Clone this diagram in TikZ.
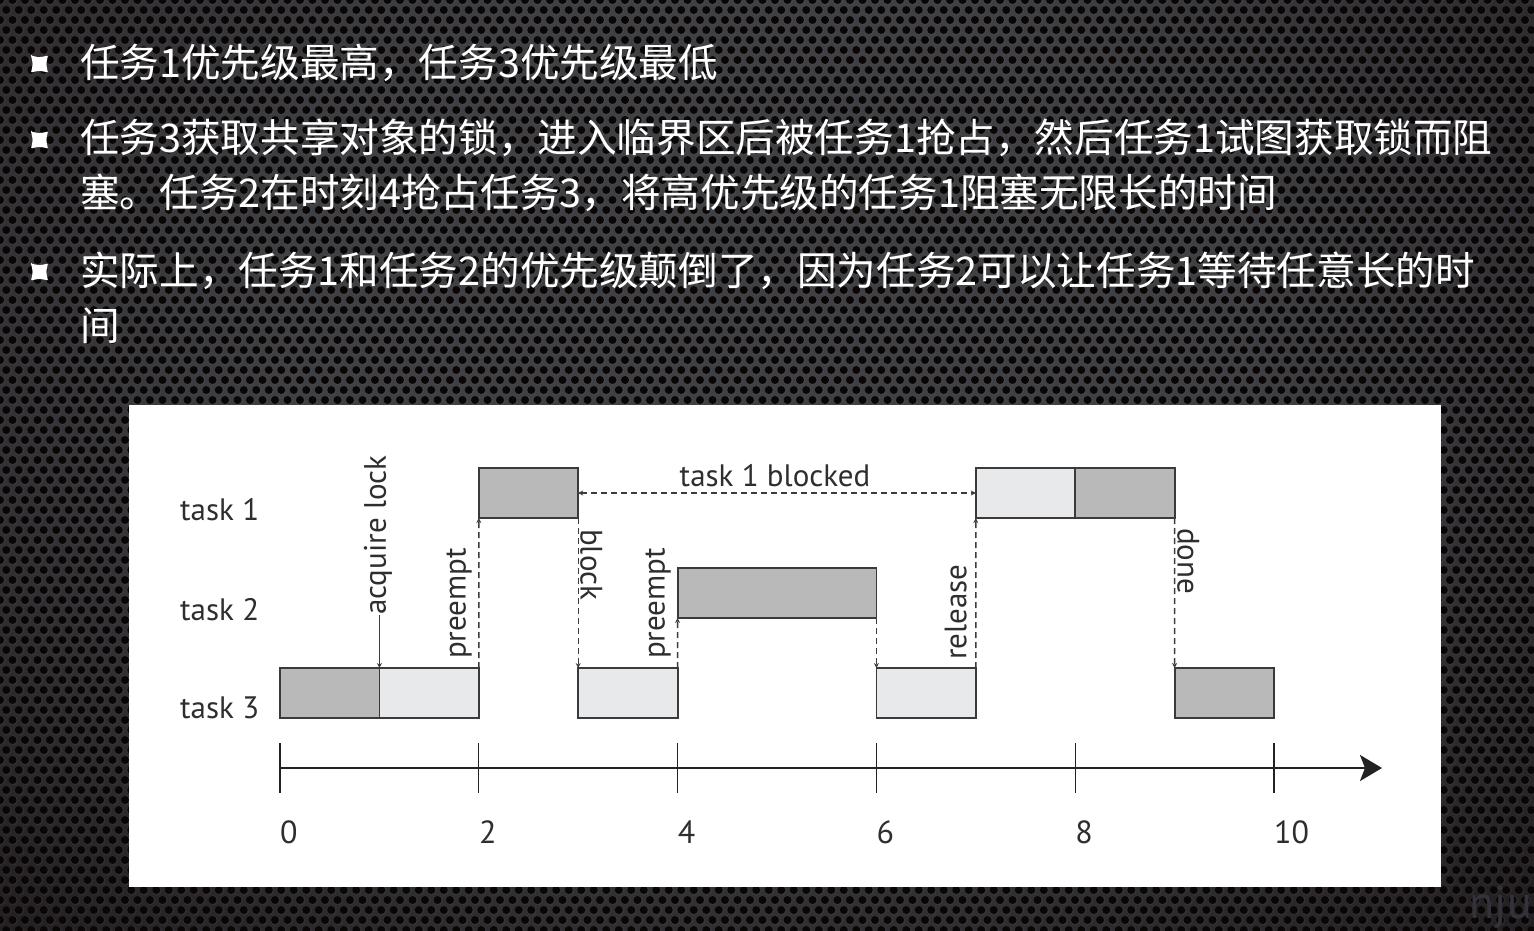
\documentclass[tikz,border=0pt]{standalone}
\usepackage{fontspec}
\setmainfont{PT Sans}
\newfontfamily\cjk{Noto Sans CJK SC}
\usetikzlibrary{arrows.meta}
\definecolor{bgmid}{HTML}{404042}
\definecolor{bgdark}{HTML}{120B0C}
\definecolor{hole}{HTML}{0A0606}
\definecolor{rim}{HTML}{5A6A8A}
\definecolor{darkfill}{HTML}{B9B9B9}
\definecolor{lightfill}{HTML}{E8E9EB}
\definecolor{boxline}{HTML}{3A3A3A}
\definecolor{labcol}{HTML}{2E2E2E}
\definecolor{arrcol}{HTML}{3C3C3C}
\definecolor{axcol}{HTML}{222222}
\definecolor{wmcol}{HTML}{36323C}
\pgfdeclareradialshading{bgglow}{\pgfpoint{0bp}{0bp}}{color(0bp)=(bgmid); color(8bp)=(bgmid); color(25bp)=(bgdark); color(50bp)=(bgdark)}
\tikzset{
  zh/.style={text=white, font=\cjk\fontsize{39.6}{48}\selectfont, inner sep=0pt, anchor=base west},
  lab/.style={text=labcol, font=\fontsize{31}{31}\selectfont, inner sep=0pt},
  num/.style={text=labcol, font=\fontsize{32}{32}\selectfont, inner sep=0pt, anchor=base west},
  box/.style={draw=boxline, line width=1.8pt, minimum height=50pt, inner sep=0pt, outer sep=0pt, anchor=north west},
  dk/.style={box, fill=darkfill},
  lt/.style={box, fill=lightfill},
  dsh/.style={draw=arrcol, line width=1.4pt, dash pattern=on 6pt off 4pt, -{Stealth[length=5pt,width=5pt]}},
  sol/.style={draw=arrcol, line width=1.4pt, -{Stealth[length=5pt,width=5pt]}},
  tickline/.style={draw=axcol, line width=1.2pt},
  bulletmark/.style={fill=white},
  holerow/.style={draw=hole, line width=8pt, line cap=round, dash pattern=on 0pt off 12.5pt},
  rimrow/.style={draw=rim, draw opacity=0.12, line width=10pt, line cap=round, dash pattern=on 0pt off 12.5pt}
}
\begin{document}
\begin{tikzpicture}[x=1pt,y=-1pt]
\useasboundingbox (0,0) rectangle (1534,930);
% background
\begin{scope}
\clip (0,0) rectangle (1534,930);
\fill[bgdark] (0,0) rectangle (1534,930);
\shade[shading=bgglow] (760,330) ellipse [x radius=1500, y radius=1100];
\foreach \j in {0,...,93} {
  \pgfmathsetmacro\off{mod(\j,2)*6.25}
  \draw[rimrow] ({\off+0.6},{\j*10+0.6}) -- (1545,{\j*10+0.6});
  \draw[holerow] (\off,{\j*10}) -- (1545,{\j*10});
}
\node[text=wmcol, font=\fontsize{46}{46}\selectfont, anchor=base east, inner sep=0pt] (wm) at (1532,918) {nju};
\end{scope}
% bullets
\foreach \by in {64,140,272} {
  \fill[bulletmark, shift={(39.5,\by)}, rounded corners=1pt] (-8.5,-8.5) .. controls (0,-6.5) .. (8.5,-8.5) .. controls (6.5,0) .. (8.5,8.5) .. controls (0,6.5) .. (-8.5,8.5) .. controls (-6.5,0) .. (-8.5,-8.5) -- cycle;
}
% text
\node[zh] (l1) at (80,77) {任务1优先级最高，任务3优先级最低};
\node[zh] (l2) at (80,152) {任务3获取共享对象的锁，进入临界区后被任务1抢占，然后任务1试图获取锁而阻};
\node[zh] (l2b) at (80,207) {塞。任务2在时刻4抢占任务3，将高优先级的任务1阻塞无限长的时间};
\node[zh] (l3) at (80,285) {实际上，任务1和任务2的优先级颠倒了，因为任务2可以让任务1等待任意长的时};
\node[zh] (l3b) at (80,340) {间};
% panel
\fill[white] (129,405) rectangle (1441,887);
% task labels
\node[lab, anchor=base west] (tk1) at (180,520) {task 1};
\node[lab, anchor=base west] (tk2) at (180,620) {task 2};
\node[lab, anchor=base west] (tk3) at (180,718) {task 3};
% boxes
\node[dk, minimum width=99.4pt] (t3a) at (280,668) {};
\node[lt, minimum width=99.4pt] (t3b) at (379.4,668) {};
\node[lt, minimum width=99.4pt] (t3c) at (578.2,668) {};
\node[lt, minimum width=99.4pt] (t3d) at (876.4,668) {};
\node[dk, minimum width=99.4pt] (t3e) at (1174.6,668) {};
\node[dk, minimum width=99.4pt] (t1a) at (478.8,468) {};
\node[lt, minimum width=99.4pt] (t1b) at (975.8,468) {};
\node[dk, minimum width=99.4pt] (t1c) at (1075.2,468) {};
\node[dk, minimum width=198.8pt] (t2a) at (677.6,568) {};
% event labels
\node[lab, rotate=90, anchor=west] (acq) at (378,615) {acquire lock};
\node[lab, rotate=90, anchor=south west] (pre1) at (472,659) {preempt};
\node[lab, rotate=-90, anchor=south west] (blk) at (580,529) {block};
\node[lab, rotate=90, anchor=south west] (pre2) at (671,659) {preempt};
\node[lab, rotate=90, anchor=south west] (rel) at (967,660) {release};
\node[lab, rotate=-90, anchor=south west] (dn) at (1177,528) {done};
\node[lab, anchor=base] (blkd) at (775,486) {task 1 blocked};
% connectors
\draw[sol] (acq.west -| t3b.north west) -- (t3b.north west);
\draw[dsh] (t3b.north east) -- (t1a.south west);
\draw[dsh] (t1a.south east) -- (t3c.north west);
\draw[dsh] (t3c.north east) -- (t2a.south west);
\draw[dsh] (t2a.south east) -- (t3d.north west);
\draw[dsh] (t3d.north east) -- (t1b.south west);
\draw[dsh] (t1c.south east) -- (t3e.north west);
\draw[dsh, {Stealth[length=5pt,width=5pt]}-{Stealth[length=5pt,width=5pt]}] (t1a.east) -- (t1b.west);
% axis
\coordinate (a0) at (280,768);
\coordinate (aend) at (1382,768);
\draw[draw=axcol, line width=2.6pt, -{Stealth[length=22pt,width=26pt,inset=5pt]}] (a0) -- (aend);
\foreach \v in {0,2,4,6,8,10} {
  \coordinate (tk\v) at ({280+99.4*\v},743);
  \coordinate (tb\v) at ({280+99.4*\v},793);
  \draw[tickline] (tk\v) -- (tb\v);
  \node[num] (n\v) at ({280+99.4*\v},843) {\v};
}
\end{tikzpicture}
\end{document}
